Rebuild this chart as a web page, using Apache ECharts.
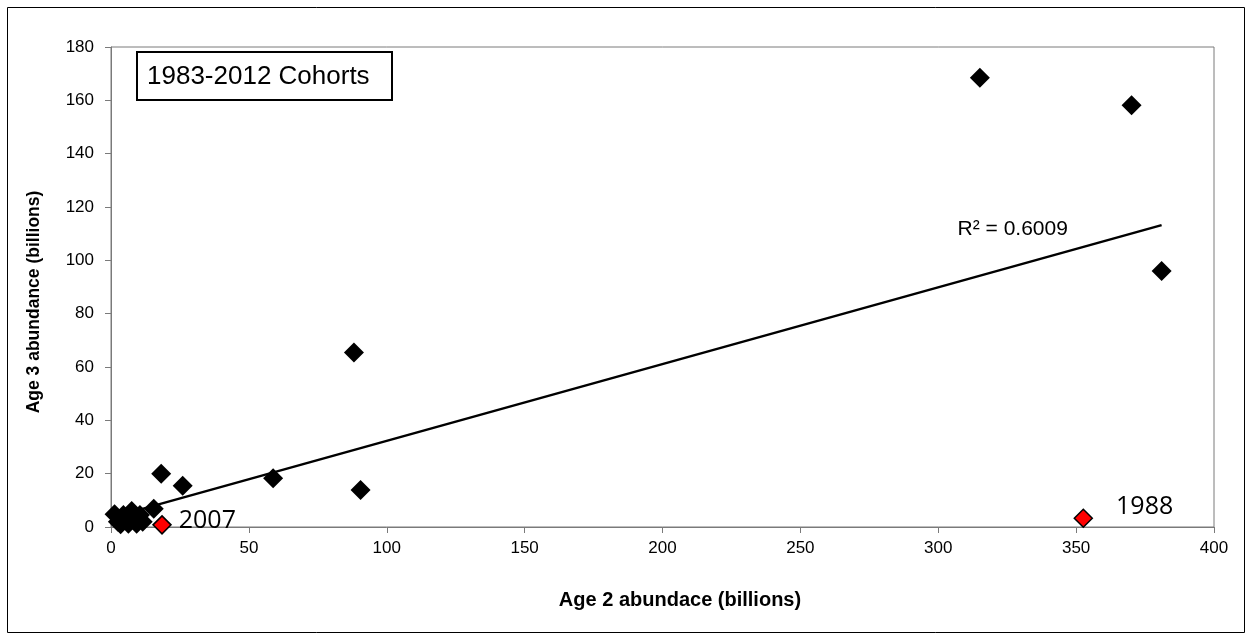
<!DOCTYPE html>
<html><head><meta charset="utf-8">
<script src="https://cdn.jsdelivr.net/npm/echarts@6/dist/echarts.min.js"></script>
<style>html,body{margin:0;padding:0;background:#fff}#c{width:1253px;height:640px}</style>
</head><body><div id="c"></div><script>
// Cohort data (billions)
const age2 = [1.3, 2.5, 3.5, 4.5, 6.3, 7.5, 8.5, 9.3, 10.5, 11.5, 15.5, 18.2, 26.0, 58.8, 88.1, 90.5, 315.1, 370.1, 381.0];
const age3 = [4.8, 2.0, 1.0, 4.5, 1.2, 6.0, 2.8, 1.2, 4.5, 2.0, 6.8, 20.0, 15.5, 18.3, 65.4, 13.9, 168.5, 158.2, 96.0];
const highlightYears = ['2007', '1988'];
const highlightAge2 = [18.5, 352.6];
const highlightAge3 = [0.8, 3.3];
// Linear trend line
const trendX = [1.3, 381.0];
const trendY = [3.9, 113.2];
const rSquaredText = 'R\u00b2 = 0.6009';
const rSquaredAt = [327, 111.7];
const boxTitle = '1983-2012 Cohorts';
const xTitle = 'Age 2 abundace (billions)';
const yTitle = 'Age 3 abundance (billions)';

const chart = echarts.init(document.getElementById('c'));
const axisGray = '#7a7a7a';
const labelOffsets = [[2, -4], [18, -11]];
const arial = 'Arial, Liberation Sans';
chart.setOption({
  animation: false,
  backgroundColor: '#fff',
  grid: {left: 111, right: 39, top: 47, bottom: 113, show: true, borderColor: axisGray, borderWidth: 1},
  xAxis: {
    type: 'value', min: 0, max: 400, interval: 50,
    axisLine: {show: true, lineStyle: {color: axisGray, width: 1}},
    axisTick: {show: true, inside: false, length: 6, lineStyle: {color: axisGray}},
    axisLabel: {fontFamily: arial, fontSize: 17, color: '#000', margin: 13},
    splitLine: {show: false}
  },
  yAxis: {
    type: 'value', min: 0, max: 180, interval: 20,
    axisLine: {show: true, lineStyle: {color: axisGray, width: 1}},
    axisTick: {show: true, inside: false, length: 6, lineStyle: {color: axisGray}},
    axisLabel: {fontFamily: arial, fontSize: 17, color: '#000', margin: 17},
    splitLine: {show: false}
  },
  series: [
    {
      type: 'line', data: trendX.map((x, i) => [x, trendY[i]]),
      showSymbol: false, symbol: 'none', lineStyle: {color: '#000', width: 2.5, opacity: 1}, z: 2, silent: true
    },
    {
      type: 'scatter', data: age2.map((x, i) => [x, age3[i]]),
      symbol: 'diamond', symbolSize: 20, itemStyle: {color: '#000', opacity: 1}, z: 3
    },
    {
      type: 'scatter', data: highlightAge2.map((x, i) => ({
        value: [x, highlightAge3[i]],
        label: {show: true, position: 'right', formatter: highlightYears[i], offset: labelOffsets[i]}
      })),
      symbol: 'diamond', symbolSize: 18,
      itemStyle: {color: '#ff0000', borderColor: '#000', borderWidth: 1.5, opacity: 1}, z: 4,
      label: {fontFamily: 'Open Sans, Noto Sans', fontSize: 25, color: '#000'}
    },
    {
      type: 'scatter', data: [rSquaredAt], symbolSize: 0, silent: true, itemStyle: {opacity: 1},
      label: {show: true, position: 'inside', formatter: rSquaredText,
        fontFamily: arial, fontSize: 21, color: '#000'}
    }
  ],
  graphic: [
    {type: 'rect', shape: {x: 7.5, y: 7.5, width: 1237, height: 625}, style: {fill: 'none', stroke: '#000', lineWidth: 1}, silent: true},
    {type: 'rect', shape: {x: 137, y: 52, width: 255, height: 48}, style: {fill: '#fff', stroke: '#000', lineWidth: 2}, z: 10},
    {type: 'text', x: 147, y: 77, style: {text: boxTitle, fontFamily: arial, fontSize: 26, fill: '#000', verticalAlign: 'middle'}, z: 11},
    {type: 'text', x: 680, y: 600, style: {text: xTitle, fontFamily: arial, fontWeight: 'bold', fontSize: 20, fill: '#000', align: 'center', verticalAlign: 'middle'}},
    {type: 'text', x: 34, y: 302, rotation: Math.PI / 2, style: {text: yTitle, fontFamily: arial, fontWeight: 'bold', fontSize: 17.5, fill: '#000', align: 'center', verticalAlign: 'middle'}}
  ]
});
</script></body></html>
